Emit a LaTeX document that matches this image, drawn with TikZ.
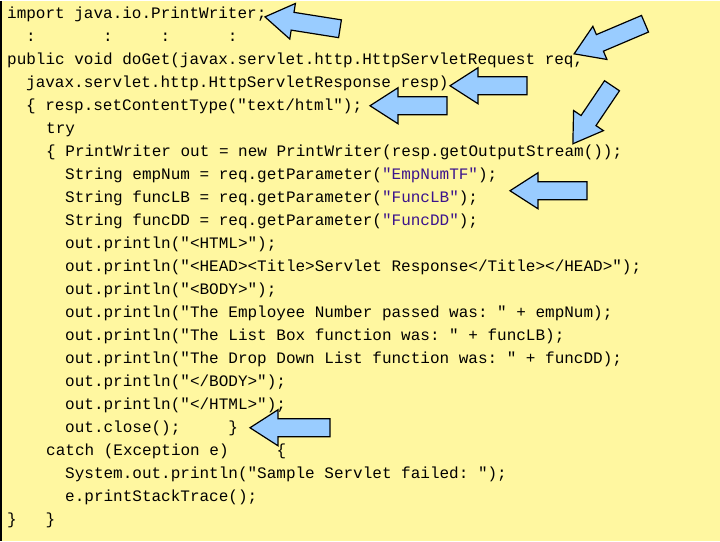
\documentclass[tikz,border=0pt]{standalone}
\usepackage{fontspec}
\setmonofont{Liberation Mono}
\usepackage{tikz}
\usetikzlibrary{positioning}
\definecolor{paper}{RGB}{255,247,160}
\definecolor{arrowblue}{RGB}{153,204,255}
\definecolor{strpurple}{RGB}{60,20,140}
\newcommand{\pstr}[1]{\textcolor{strpurple}{#1}}
\newcommand{\gap}[1]{\hspace*{#1\dimexpr 9.6pt\relax}}
\tikzset{
  code/.style={anchor=base west, inner sep=0pt, font=\ttfamily\fontsize{16}{23}\selectfont},
  pics/blk/.style={code={
    \path[draw=black, line width=1.2pt, fill=arrowblue, line join=miter]
      (0,-9) -- (#1-28,-9) -- (#1-28,-18) -- (#1,0) -- (#1-28,18) -- (#1-28,9) -- (0,9) -- cycle;}}
}
\begin{document}
\begin{tikzpicture}[x=1pt, y=-1pt]
  % Background
  \fill[paper] (0,0) rectangle (720,540);
  \draw[line width=1.5pt] (0.75,0) -- (0.75,540);
  \useasboundingbox (0,0) rectangle (720,540);
  % Code lines
  \node[code] (l1)  at (7,18)  {import java.io.PrintWriter;};
  \node[code] (l2)  at (26,41) {:\gap{7}:\gap{5}:\gap{6}:};
  \node[code] (l3)  at (7,64)  {public void doGet(javax.servlet.http.HttpServletRequest req,};
  \node[code] (l4)  at (26,87) {javax.servlet.http.HttpServletResponse resp)};
  \node[code] (l5)  at (26,110) {\{ resp.setContentType("text/html");};
  \node[code] (l6)  at (46,133) {try};
  \node[code] (l7)  at (46,156) {\{ PrintWriter out = new PrintWriter(resp.getOutputStream());};
  \node[code] (l8)  at (65,179) {String empNum = req.getParameter(\pstr{"EmpNumTF"});};
  \node[code] (l9)  at (65,202) {String funcLB = req.getParameter(\pstr{"FuncLB"});};
  \node[code] (l10) at (65,225) {String funcDD = req.getParameter(\pstr{"FuncDD"});};
  \node[code] (l11) at (65,248) {out.println("<HTML>");};
  \node[code] (l12) at (65,271) {out.println("<HEAD><Title>Servlet Response</Title></HEAD>");};
  \node[code] (l13) at (65,294) {out.println("<BODY>");};
  \node[code] (l14) at (65,317) {out.println("The Employee Number passed was: " + empNum);};
  \node[code] (l15) at (65,340) {out.println("The List Box function was: " + funcLB);};
  \node[code] (l16) at (65,363) {out.println("The Drop Down List function was: " + funcDD);};
  \node[code] (l17) at (65,386) {out.println("</BODY>");};
  \node[code] (l18) at (65,409) {out.println("</HTML>");};
  \node[code] (l19) at (65,432) {out.close();\gap{5}\}};
  \node[code] (l20) at (46,455) {catch (Exception e)\gap{5}\{};
  \node[code] (l21) at (65,478) {System.out.println("Sample Servlet failed: ");};
  \node[code] (l22) at (65,501) {e.printStackTrace();};
  \node[code] (l23) at (7,524)  {\}\gap{3}\}};
  % Block arrows
  \pic[shift={(340,28)}, rotate=171] {blk=76};
  \pic[shift={(645,23)}, rotate=203] {blk=77};
  \pic[shift={(527,85)}, rotate=180] {blk=77};
  \pic[shift={(447,105)}, rotate=180] {blk=77};
  \pic[shift={(612,85)}, rotate=236] {blk=70};
  \pic[shift={(587,190)}, rotate=180] {blk=77};
  \pic[shift={(330,427)}, rotate=180] {blk=80};
\end{tikzpicture}
\end{document}
